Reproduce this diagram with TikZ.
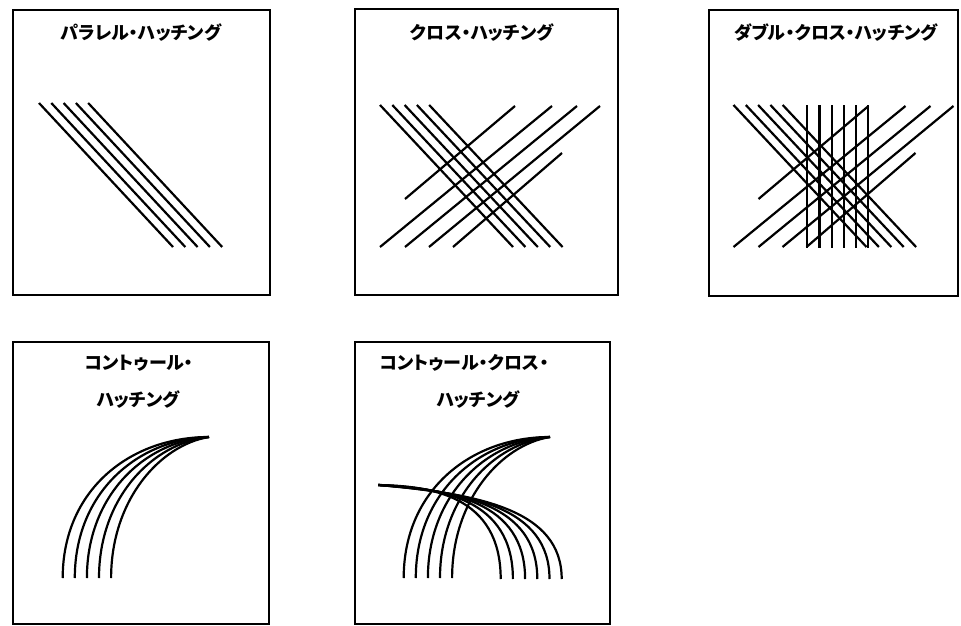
\documentclass[tikz,border=0pt]{standalone}
\usepackage{fontspec}
\newfontfamily\jp[RawFeature=+palt]{Noto Sans CJK JP}
\begin{document}
\begin{tikzpicture}[x=1pt,y=-1pt,
  box/.style={draw=black, line width=1.3pt},
  hatch/.style={draw=black, line width=2.2pt},
  ttl/.style={font=\jp\bfseries\fontsize{18}{20}\selectfont, inner sep=0pt, anchor=center}]
\useasboundingbox (0,0) rectangle (961,626);

% ---------- boxes ----------
\draw[box] (13,10) rectangle (270,295);
\draw[box] (355,9) rectangle (618,295);
\draw[box] (709,10) rectangle (958,296);
\draw[box] (13,342) rectangle (269,624);
\draw[box] (355,342) rectangle (610,624);

% ---------- titles ----------
\node[ttl] (t1) at (141,33) {パラレル・ハッチング};
\node[ttl] (t2) at (482,33) {クロス・ハッチング};
\node[ttl] (t3) at (836,33) {ダブル・クロス・ハッチング};
\node[ttl] (t4a) at (139,363) {コントゥール・};
\node[ttl] (t4b) at (138,400) {ハッチング};
\node[ttl] (t5a) at (464,363) {コントゥール・クロス・};
\node[ttl] (t5b) at (478,400) {ハッチング};

% ---------- panel 1: parallel hatching ----------
\foreach \i in {0,...,4}
  \draw[hatch] ({39+12.3*\i},103) -- ({173+12.3*\i},247);

% ---------- panel 2 and 3: cross hatching ----------
\foreach \dx in {0,353.5}{
  \begin{scope}[xshift=\dx pt]
    \foreach \i in {0,...,4}
      \draw[hatch] ({380+12.3*\i},105) -- ({513+12.4*\i},247);
    \draw[hatch] (405,199) -- (515,106);
    \draw[hatch] (380,247) -- (552,106);
    \draw[hatch] (405,247) -- (577,106);
    \draw[hatch] (429,247) -- (600,106);
    \draw[hatch] (453,247) -- (562,153);
  \end{scope}
}
% verticals of panel 3
\foreach \i in {0,...,5}
  \draw[hatch] ({807.3+12.2*\i},105) -- ({807.3+12.2*\i},248);

% ---------- panel 4 and 5: contour hatching ----------
\foreach \dx in {0,341}{
  \begin{scope}[xshift=\dx pt]
    \foreach \i in {0,...,4}
      \draw[hatch] ({62.7+12.1*\i},578) .. controls ({62.7+12.1*\i},{490+2.5*\i}) and ({130+7.5*\i},{437+2*\i}) .. (209,437);
  \end{scope}
}
\foreach \j in {0,...,5}
  \draw[hatch] (378.3,485) .. controls ({430+10*\j},{486+1.6*\j}) and ({500.7+12.2*\j},{495+3*\j}) .. ({500.7+12.2*\j},579);
\end{tikzpicture}
\end{document}
